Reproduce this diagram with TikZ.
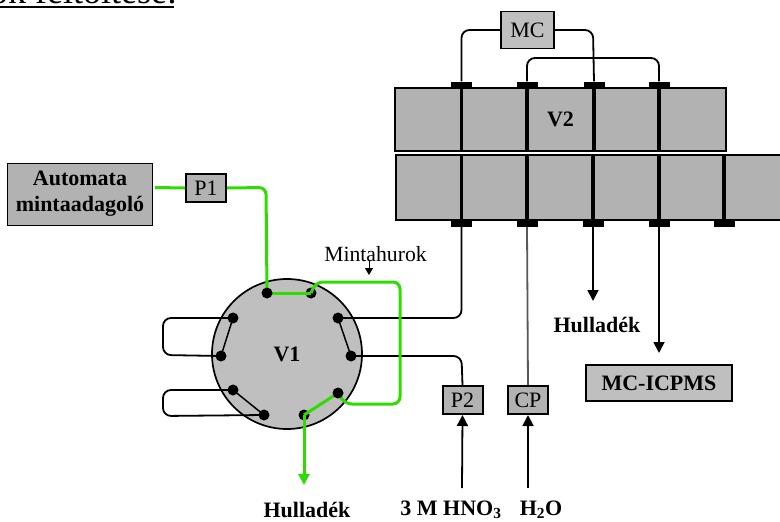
\documentclass[tikz,border=0pt]{standalone}
\usepackage{fontspec}
\setmainfont{Liberation Serif}
\usetikzlibrary{arrows.meta,positioning}
\definecolor{boxgray}{gray}{0.7}
\definecolor{valvegray}{gray}{0.75}
\definecolor{loopgreen}{RGB}{46,220,0}
\tikzset{
  boxnode/.style = {draw=black, fill=boxgray, inner sep=0pt, align=center,
    font=\fontsize{22}{26}\selectfont\bfseries},
  pumpnode/.style = {draw=black, fill=boxgray, line width=2pt, inner sep=0pt,
    minimum width=40pt, minimum height=28pt, font=\fontsize{22}{26}\selectfont},
  portnode/.style = {circle, fill=black, inner sep=0pt, minimum size=11pt},
  footnode/.style = {fill=black, inner sep=0pt, minimum width=21pt, minimum height=7pt},
  labelnode/.style = {inner sep=0pt, font=\fontsize{22}{26}\selectfont\bfseries},
  tube/.style = {line width=1.8pt, rounded corners=8pt},
  greentube/.style = {draw=loopgreen, line width=3pt, rounded corners=7pt}
}
\begin{document}
\begin{tikzpicture}[x=1pt,y=-1pt,>={Triangle[length=11pt,width=11pt]}]
        \useasboundingbox (0,0) rectangle (780,522);
        \clip (0,0) rectangle (780,522);
        % title, cut by the page edge
        \node [anchor=base west, inner sep=0pt, font=\fontsize{36}{38}\selectfont] (title) at (-10,4) {ok feltöltése:};
        \coordinate (rulestart) at (0,6.5);
        \coordinate (ruleend) at (174,6.5);
        \draw [line width=2pt] (rulestart) -- (ruleend);
        % sample side
        \node [boxnode, line width=1pt, minimum width=145pt, minimum height=62pt] (sampler) at (80,194) {Automata\\mintaadagoló};
        \node [pumpnode] (P1) at (206,188) {P1};
        \node [pumpnode] (P2) at (462.5,400) {P2};
        \node [pumpnode] (CP) at (528,400) {CP};
        \node [boxnode, fill=valvegray, line width=1.5pt, minimum width=53pt, minimum height=37pt, font=\fontsize{22}{26}\selectfont] (MC) at (527.5,30) {MC};
        \node [boxnode, fill=valvegray, line width=1.5pt, minimum width=146pt, minimum height=36pt] (ICPMS) at (659,383) {MC-ICPMS};
        % V2
        \node [boxnode, line width=1.7pt, minimum width=331pt, minimum height=63pt] (V2up) at (560.5,119.5) {V2};
        \node [boxnode, line width=1.7pt, minimum width=400pt, minimum height=65pt] (V2low) at (596,187.5) {};
        \foreach \n/\px in {a/461.5,b/527,c/594,d/659}{
            \node [footnode] (top\n) at (\px,85) {};
            \coordinate (u\n) at (\px,151);
            \draw [line width=3.5pt] (top\n.south) -- (u\n);
        }
        \foreach \n/\px in {a/461.5,b/527,c/593,d/659,e/724}{
            \node [footnode] (bot\n) at (\px,223.5) {};
            \coordinate (m\n) at (\px,155);
            \draw [line width=3.5pt] (m\n) -- (bot\n.north);
        }
        % V1
        \node [circle, draw=black, fill=valvegray, line width=1.7pt, inner sep=0pt, minimum size=150pt] (V1) at (287,354) {};
        \node [labelnode] (V1text) at (287,354) {V1};
        % black tubing
        \coordinate (pa) at (267,293);
        \coordinate (pb) at (311,293);
        \coordinate (pc) at (338,318);
        \coordinate (pd) at (351,356);
        \coordinate (pe) at (338,393);
        \coordinate (pf) at (304,415);
        \coordinate (pg) at (264,415);
        \coordinate (ph) at (233,390);
        \coordinate (pi) at (221,356);
        \coordinate (pj) at (233,318);
        \draw [tube] (MC.west) -- (461.5,30) -- (topa.north);
        \draw [tube] (MC.east) -- (593,30) -- (topc.north);
        \draw [tube] (topb.north) -- (527,58) -- (659,58) -- (topd.north);
        \draw [tube] (bota.south) -- (461.5,318) -- (pc);
        \draw [tube] (pd) -- (461.5,356) -- (P2.north);
        \draw [line width=1.8pt, black!65] (botb.south) -- (CP.north);
        \draw [tube] (pj) -- (163,318) -- (163,355) -- (pi);
        \draw [tube] (ph) -- (163,390) -- (163,416) -- (pg);
        \draw [line width=1.5pt] (pj) -- (pi);
        \draw [line width=1.5pt] (pc) -- (pd);
        \draw [line width=1.5pt] (ph) -- (pg);
        % arrows
        \coordinate (hno) at (462,488);
        \coordinate (water) at (528,488);
        \coordinate (wastetip) at (593,301);
        \coordinate (icptip) at (659,353);
        \draw [->, line width=1.8pt] (botc.south) -- (wastetip);
        \draw [->, line width=1.8pt] (botd.south) -- (icptip);
        \draw [->, line width=1.8pt] (hno) -- (P2.south);
        \draw [->, line width=1.8pt] (water) -- (CP.south);
        % ports under the green line
        \foreach \p in {pb,pc,pd,pf,pg,ph,pi,pj}
            \node [portnode] (\p n) at (\p) {};
        % green flow path
        \coordinate (samplerout) at (155,187.5);
        \coordinate (greenend) at (304,485);
        \draw [greentube] (samplerout) -- (P1.west);
        \draw [greentube] (P1.east) -- (266,187.5) -- (pa);
        \draw [greentube, rounded corners=0pt] (pa) -- (pb);
        \draw [greentube] (pb) -- (316,282) -- (400,282) -- (400,404) -- (345,404) -- (pe);
        \draw [greentube, rounded corners=0pt] (pe) -- (pf);
        \draw [draw=loopgreen, fill=loopgreen, line width=3pt, -{Triangle[length=11pt,width=11pt]}] (pf) -- (greenend);
        % ports over the green line
        \foreach \p in {pa,pe}
            \node [portnode] (\p n) at (\p) {};
        % labels
        \node [inner sep=0pt, font=\fontsize{21.7}{24}\selectfont] (loop) at (375.5,254) {Mintahurok};
        \coordinate (looptip) at (369,275);
        \coordinate (loopstart) at (369,260);
        \draw [-{Triangle[length=7pt,width=8pt]}, line width=1pt] (loopstart) -- (looptip);
        \node [labelnode] (waste1) at (597,325) {Hulladék};
        \node [labelnode] (waste2) at (307,510) {Hulladék};
        \node [labelnode] (acid) at (451,510) {3 M HNO\textsubscript{3}};
        \node [labelnode] (watertext) at (541,510) {H\textsubscript{2}O};
\end{tikzpicture}
\end{document}
